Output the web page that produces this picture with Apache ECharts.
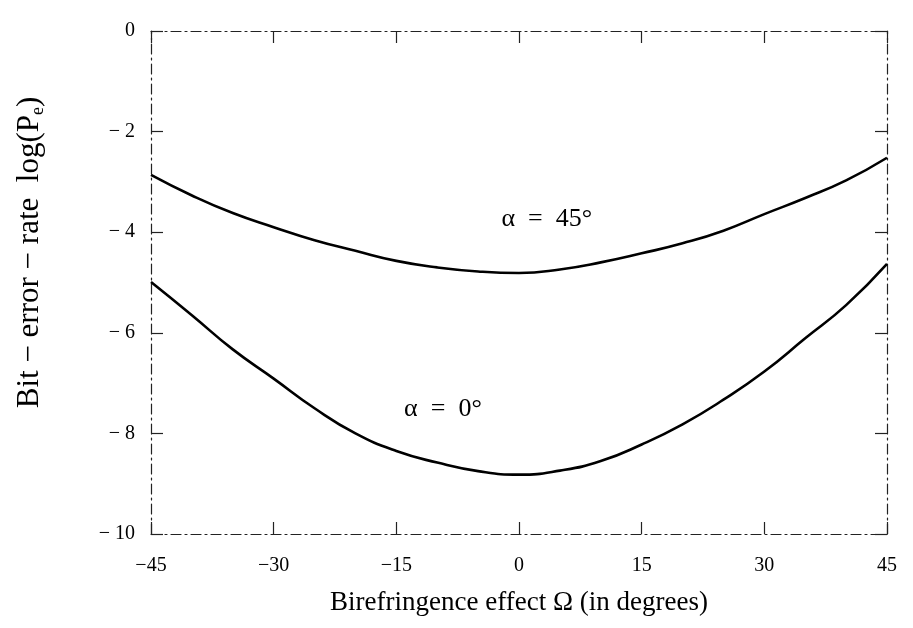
<!DOCTYPE html>
<html>
<head>
<meta charset="utf-8">
<title>Bit-error-rate vs birefringence</title>
<script src="https://cdn.jsdelivr.net/npm/echarts@6/dist/echarts.min.js"></script>
<style>
  html, body { margin: 0; padding: 0; background: #fff; }
  #chart { width: 913px; height: 628px; }
</style>
</head>
<body>
<div id="chart"></div>
<script>
// Birefringence angle Ω in degrees
const omega = [-45, -40, -35, -30, -25, -20, -15, -10, -5, 0, 5, 10, 15, 20, 25, 30, 35, 40, 45];
// log10 of bit-error probability, polarization angle α = 45°
const ber45 = [-2.86, -3.27, -3.62, -3.90, -4.16, -4.37, -4.57, -4.70, -4.78, -4.81, -4.74, -4.60, -4.42, -4.22, -3.97, -3.64, -3.32, -2.97, -2.52];
// log10 of bit-error probability, polarization angle α = 0°
const ber0 = [-4.99, -5.65, -6.33, -6.91, -7.50, -8.00, -8.35, -8.58, -8.75, -8.82, -8.74, -8.55, -8.22, -7.82, -7.33, -6.77, -6.11, -5.45, -4.63];
// Curve labels and where they sit in data space
const curveLabels = ['α  =  45°', 'α  =  0°'];
const labelSpots = [[3.4, -3.74], [-9.3, -7.51]];

const serif = '"Liberation Serif", "DejaVu Serif", serif';
const frame = { show: true, onZero: false, lineStyle: { color: '#222', width: 1.2, type: [10, 4, 2, 4] } };
const ticks = { show: true, inside: true, length: 12, lineStyle: { color: '#222', width: 1.2 } };
const neg = v => (v < 0 ? '− ' + Math.abs(v) : String(v));

const chart = echarts.init(document.getElementById('chart'));
chart.setOption({
  backgroundColor: '#fff',
  animation: false,
  grid: { left: 151, right: 26, top: 31, bottom: 94 },
  xAxis: [{
    type: 'value', position: 'bottom', min: -45, max: 45, interval: 15,
    axisLine: frame, axisTick: ticks, splitLine: { show: false },
    axisLabel: { margin: 22, color: '#000', fontFamily: serif, fontSize: 20,
      formatter: v => (v < 0 ? '−' + Math.abs(v) : String(v)) },
    name: 'Birefringence effect Ω (in degrees)', nameLocation: 'middle', nameGap: 55,
    nameTextStyle: { color: '#000', fontFamily: serif, fontSize: 27 }
  }, {
    type: 'value', position: 'top', min: -45, max: 45, interval: 15,
    axisLine: frame, axisTick: ticks, axisLabel: { show: false }, splitLine: { show: false }
  }],
  yAxis: [{
    type: 'value', position: 'left', min: -10, max: 0, interval: 2,
    axisLine: frame, axisTick: ticks, splitLine: { show: false },
    axisLabel: { margin: 16, color: '#000', fontFamily: serif, fontSize: 20, formatter: neg },
    name: 'Bit − error − rate  log(P{sub|e})', nameLocation: 'middle', nameGap: 106,
    nameTextStyle: { color: '#000', fontFamily: serif, fontSize: 31, padding: [0, 0, 0, 60],
      rich: { sub: { fontFamily: serif, fontSize: 18, color: '#000', verticalAlign: 'bottom', padding: [0, 0, -2, 0] } } }
  }, {
    type: 'value', position: 'right', min: -10, max: 0, interval: 2,
    axisLine: frame, axisTick: ticks, axisLabel: { show: false }, splitLine: { show: false }
  }],
  series: [{
    name: 'α = 45°', type: 'line', smooth: true, symbol: 'none',
    data: omega.map((x, i) => [x, ber45[i]]),
    lineStyle: { color: '#000', width: 2.6 },
    markPoint: {
      symbol: 'circle', symbolSize: 0, silent: true,
      data: labelSpots.map((p, i) => ({ coord: p, name: curveLabels[i] })),
      label: { show: true, position: 'inside', formatter: p => p.name,
        color: '#000', opacity: 1, fontFamily: serif, fontSize: 26 }
    }
  }, {
    name: 'α = 0°', type: 'line', smooth: true, symbol: 'none',
    data: omega.map((x, i) => [x, ber0[i]]),
    lineStyle: { color: '#000', width: 2.6 }
  }]
});
</script>
</body>
</html>
